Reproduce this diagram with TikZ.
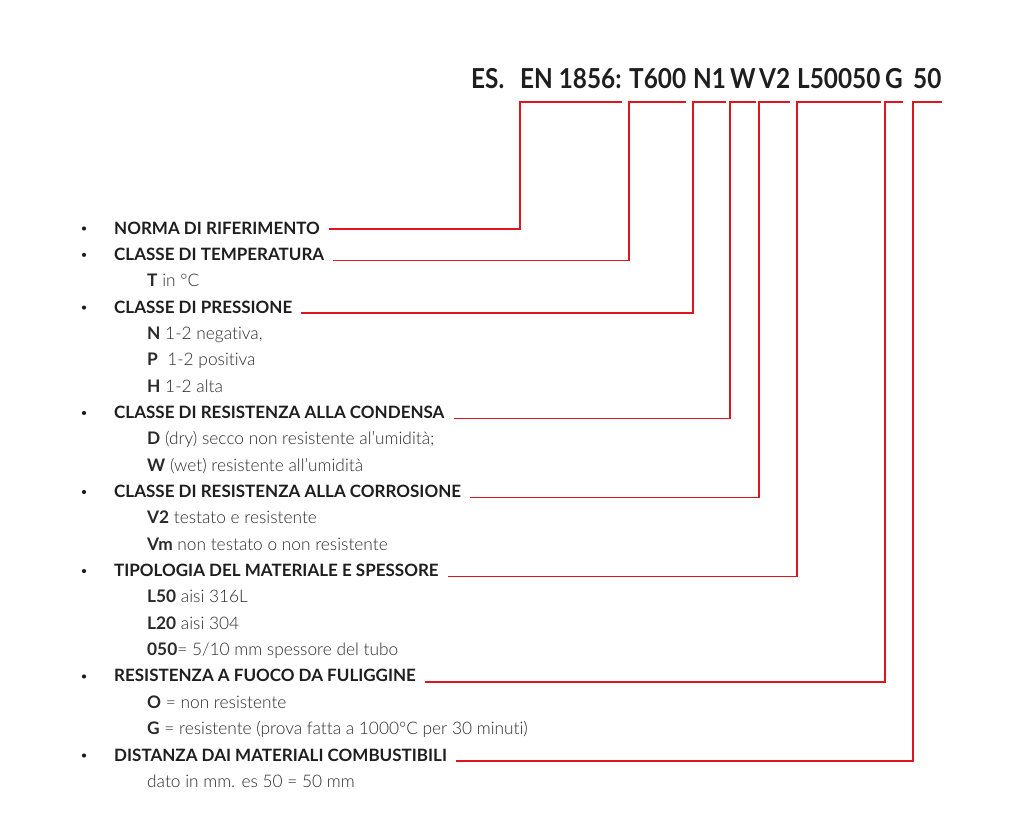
\documentclass[tikz,border=0pt]{standalone}
\usepackage{fontspec}
\setmainfont{Lato}[UprightFont=* Light, BoldFont=* Bold, Ligatures=NoCommon]
\newfontfamily\titlefont{Lato Bold}[FakeStretch=0.885, Ligatures=NoCommon]
\definecolor{ink}{HTML}{1E1E1E}
\definecolor{subink}{HTML}{2A2A2A}
\definecolor{lred}{HTML}{E0161E}
\begin{document}
\begin{tikzpicture}[x=1pt,y=-1pt,
  head/.style={anchor=base west, inner sep=0pt, font=\fontsize{17}{19}\selectfont\bfseries, text=ink},
  sub/.style={anchor=base west, inner sep=0pt, font=\fontsize{17.3}{19}\selectfont, text=subink},
  tok/.style={anchor=base west, inner sep=0pt, font=\fontsize{27.5}{30}\titlefont, text=ink},
  lead/.style={draw=lred, line width=1.6pt, line join=miter},
  bul/.style={circle, fill=ink, inner sep=0pt, minimum size=4.2pt}]
\useasboundingbox (0,0) rectangle (1016,833);
% title tokens
\node[tok] (t0) at (471,88) {ES.};
\node[tok] (t1) at (520,88) {EN 1856:};
\node[tok] (t2) at (629,88) {T600};
\node[tok] (t3) at (693,88) {N1};
\node[tok] (t4) at (730,88) {W};
\node[tok] (t5) at (759,88) {V2};
\node[tok] (t6) at (797,88) {L50050};
\node[tok] (t7) at (885,88) {G};
\node[tok] (t8) at (913,88) {50};
\coordinate (top) at (0,101.7);
% headings
\node[head] (h1) at (114,234) {NORMA DI RIFERIMENTO};
\node[head] (h2) at (114,260.35) {CLASSE DI TEMPERATURA};
\node[head] (h3) at (114,313.05) {CLASSE DI PRESSIONE};
\node[head] (h4) at (114,418.45) {CLASSE DI RESISTENZA ALLA CONDENSA};
\node[head] (h5) at (114,497.5) {CLASSE DI RESISTENZA ALLA CORROSIONE};
\node[head] (h6) at (114,576.55) {TIPOLOGIA DEL MATERIALE E SPESSORE};
\node[head] (h7) at (114,681.95) {RESISTENZA A FUOCO DA FULIGGINE};
\node[head] (h8) at (114,761) {DISTANZA DAI MATERIALI COMBUSTIBILI};
% bullets
\foreach \i in {1,...,8} {\node[bul] (b\i) at ([yshift=5.5pt]h\i.base west -| 84,0) {};}
% sub items
\node[sub] (s2a) at (147,286.7) {\textbf{T} in °C};
\node[sub] (s3a) at (147,339.4) {\textbf{N} 1-2 negativa,};
\node[sub] (s3b) at (147,365.75) {\textbf{P}\ \ 1-2 positiva};
\node[sub] (s3c) at (147,392.1) {\textbf{H} 1-2 alta};
\node[sub] (s4a) at (147,444.8) {\textbf{D} (dry) secco non resistente al'umidità;};
\node[sub] (s4b) at (147,471.15) {\textbf{W} (wet) resistente all'umidità};
\node[sub] (s5a) at (147,523.85) {\textbf{V2} testato e resistente};
\node[sub] (s5b) at (147,550.2) {\textbf{Vm} non testato o non resistente};
\node[sub] (s6a) at (147,602.9) {\textbf{L50} aisi 316L};
\node[sub] (s6b) at (147,629.25) {\textbf{L20} aisi 304};
\node[sub] (s6c) at (147,655.6) {\textbf{050}= 5/10 mm spessore del tubo};
\node[sub] (s7a) at (147,708.3) {\textbf{O} = non resistente};
\node[sub] (s7b) at (147,734.65) {\textbf{G} = resistente (prova fatta a 1000°C per 30 minuti)};
\node[sub] (s8a) at (147,787.35) {dato in mm. es 50 = 50 mm};
% leaders
\draw[lead] ([shift={(9pt,5pt)}]h1.base east) -| (t1.base west |- top) -- (t1.base east |- top);
\draw[lead] ([xshift=9pt]h2.base east) -| (t2.base west |- top) -- (t2.base east |- top);
\draw[lead] ([xshift=9pt]h3.base east) -| (t3.base west |- top) -- (t3.base east |- top);
\draw[lead] ([xshift=9pt]h4.base east) -| (t4.base west |- top) -- (t4.base east |- top);
\draw[lead] ([xshift=9pt]h5.base east) -| (t5.base west |- top) -- (t5.base east |- top);
\draw[lead] ([xshift=9pt]h6.base east) -| (t6.base west |- top) -- (t6.base east |- top);
\draw[lead] ([xshift=9pt]h7.base east) -| (t7.base west |- top) -- (t7.base east |- top);
\draw[lead] ([xshift=9pt]h8.base east) -| (t8.base west |- top) -- (t8.base east |- top);
\end{tikzpicture}
\end{document}
